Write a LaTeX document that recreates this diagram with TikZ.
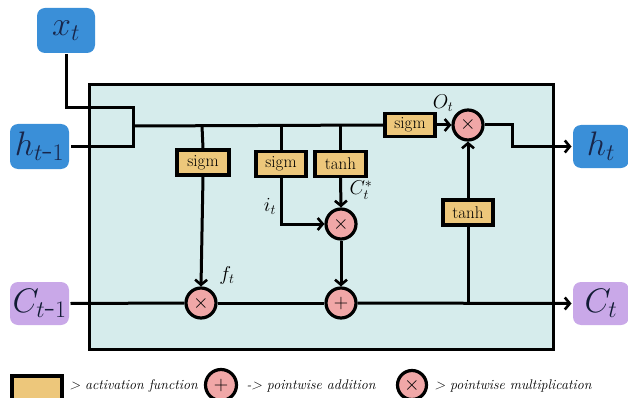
\RequirePackage{fix-cm}
\documentclass[tikz,border=0pt]{standalone}
\usetikzlibrary{arrows.meta}
\definecolor{boxblue}{HTML}{3A8FD8}
\definecolor{boxpurple}{HTML}{C9A8E8}
\definecolor{cellcyan}{HTML}{D6ECEC}
\definecolor{gateyellow}{HTML}{EDC77B}
\definecolor{oppink}{HTML}{F0A7A7}
\definecolor{navy}{HTML}{18264A}
\begin{document}
\begin{tikzpicture}[x=1pt,y=-1pt,
  line width=3pt,
  arr/.style={-{Straight Barb[length=5pt,width=12pt,line width=2.6pt]}},
  io/.style={rounded corners=8pt,draw=none,minimum width=58pt,minimum height=45pt,inner sep=0pt,font=\fontsize{34}{36}\selectfont},
  inbox/.style={io,fill=boxblue,text=navy},
  cbox/.style={io,fill=boxpurple,text=navy!70!black},
  gate/.style={draw=black,line width=3.2pt,fill=gateyellow,minimum width=50pt,minimum height=25pt,inner sep=0pt,font=\fontsize{17}{18}\selectfont},
  op/.style={circle,draw=black,line width=3.2pt,fill=oppink,minimum size=30pt,inner sep=0pt,font=\fontsize{20}{20}\selectfont},
  lbl/.style={font=\fontsize{20}{20}\selectfont},
  legend/.style={anchor=west,inner sep=0pt,font=\itshape\fontsize{14}{16}\selectfont}]
\clip (0,0) rectangle (628,398);
% main cell
\draw[fill=cellcyan] (89,85) rectangle (553,349);
% inputs / outputs
\node[inbox] (xt) at (66,30.5) {$x_t$};
\node[inbox,minimum width=59pt] (htm1) at (39.5,146.5) {$h_{t\mbox{-}1}$};
\node[cbox,minimum width=59pt,minimum height=43pt] (ctm1) at (39.5,303.5) {$C_{t\mbox{-}1}$};
\node[inbox,minimum width=56pt,minimum height=43pt] (ht) at (601,146.5) {$h_t$};
\node[cbox,minimum width=56pt,minimum height=43pt] (ct) at (601,303.5) {$C_t$};
% gates
\node[gate,minimum width=52pt] (fsig) at (203,162.5) {sigm};
\node[gate] (isig) at (281,164) {sigm};
\node[gate,minimum width=51pt] (tanha) at (340.5,164) {tanh};
\node[gate,minimum height=23pt] (osig) at (410,125) {sigm};
\node[gate] (tanhb) at (468,212.5) {tanh};
% pointwise ops
\node[op] (mulf) at (201,303) {$\times$};
\node[op] (muli) at (341,224) {$\times$};
\node[op] (add) at (341,303) {$+$};
\node[op] (mulo) at (468,125) {$\times$};
% junctions
\coordinate (jx) at (133,108);
\coordinate (jm) at (133,126);
\coordinate (jf) at (202,126);
\coordinate (ji) at (281,126);
\coordinate (jt) at (340.5,126);
\coordinate (jo) at (512,125);
\coordinate (jc) at (468,303);
% connectors
\draw (xt.south) |- (jx) |- (htm1.east);
\draw (jm) -- (osig.west);
\draw (jf) -- (fsig.north);
\draw (ji) -- (isig.north);
\draw (jt) -- (tanha.north);
\draw[arr] (fsig.south) -- (mulf.north);
\draw[arr] (isig.south) |- (muli.west);
\draw[arr] (tanha.south) -- (muli.north);
\draw[arr] (muli.south) -- (add.north);
\draw[arr] (osig.east) -- (mulo.west);
\draw[arr] (mulo.east) -- (jo) |- (ht.west);
\draw (ctm1.east) -- (mulf.west);
\draw (mulf.east) -- (add.west);
\draw[arr] (add.east) -- (ct.west);
\draw (jc) -- (tanhb.south);
\draw[arr] (tanhb.north) -- (mulo.south);
% labels
\node[lbl] (lf) at (227,275) {$f_t$};
\node[lbl] (li) at (270,206) {$i_t$};
\node[lbl] (lc) at (361,190) {$C_t^{*}$};
\node[lbl] (lo) at (443,103) {$O_t$};
% legend
\node[draw=black,line width=3.2pt,fill=gateyellow,minimum width=50pt,minimum height=26pt,inner sep=0pt] (lg) at (37,389) {};
\node[legend] (lgt) at (68,386) {> activation function};
\node[op,minimum size=31pt] (lp) at (221,385) {$+$};
\node[legend] (lpt) at (245,386) {-> pointwise addition};
\node[op,minimum size=29pt] (lm) at (412,385) {$\times$};
\node[legend] (lmt) at (433,386) {> pointwise multiplication};
\end{tikzpicture}
\end{document}
